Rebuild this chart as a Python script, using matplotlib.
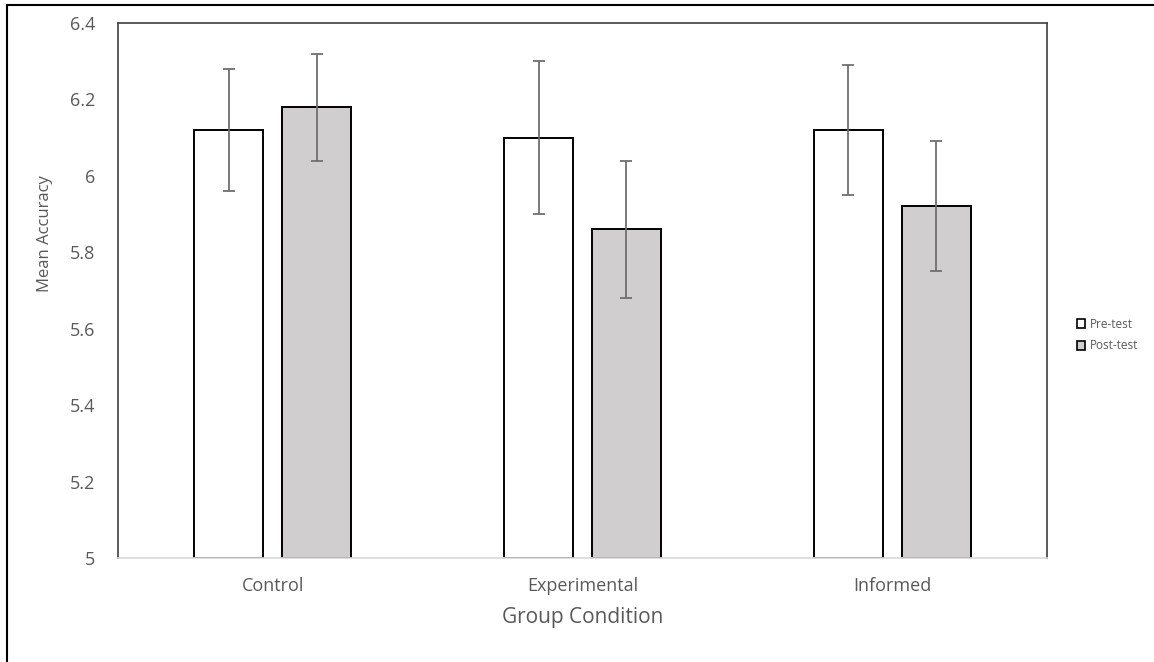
import numpy as np
import matplotlib.pyplot as plt
from matplotlib.lines import Line2D
from matplotlib.patches import Rectangle

groups = ['Control', 'Experimental', 'Informed']
pre_mean = [6.12, 6.10, 6.12]
post_mean = [6.18, 5.86, 5.92]
pre_err = [0.16, 0.20, 0.17]
post_err = [0.14, 0.18, 0.17]

W, H = 1154, 662
fig = plt.figure(figsize=(W / 100, H / 100), dpi=100)
ax = fig.add_axes([118 / W, 1 - 558 / H, (1047 - 118) / W, (558 - 23) / H])

x = np.arange(len(groups))
bw = 0.223
off = 0.142
ekw = dict(ecolor='#6f6f6f', elinewidth=1.3, capsize=4, capthick=1.3)
ax.bar(x - off, np.array(pre_mean) - 5, bw, bottom=5, color='white',
       edgecolor='black', linewidth=1.4, yerr=pre_err, error_kw=ekw, label='Pre-test', zorder=2)
ax.bar(x + off, np.array(post_mean) - 5, bw, bottom=5, color='#d0cece',
       edgecolor='black', linewidth=1.4, yerr=post_err, error_kw=ekw, label='Post-test', zorder=2)

ax.set_xlim(-0.5, 2.5)
ax.set_ylim(5, 6.4)
ax.set_yticks(np.arange(5, 6.41, 0.2))
ax.set_yticklabels(['5', '5.2', '5.4', '5.6', '5.8', '6', '6.2', '6.4'])
ax.set_xticks(x)
ax.set_xticklabels(groups)
ax.tick_params(length=0, colors='#595959')
ax.tick_params(axis='y', pad=16.5, labelsize=13)
ax.tick_params(axis='x', pad=14, labelsize=13)
for lab in ax.get_xticklabels() + ax.get_yticklabels():
    lab.set_fontfamily('Open Sans')

for s in ['left', 'top', 'right']:
    ax.spines[s].set_color('#404040')
    ax.spines[s].set_linewidth(1.2)
ax.spines['bottom'].set_color('#d9d9d9')
ax.spines['bottom'].set_linewidth(1.2)

ax.set_xlabel('Group Condition', fontsize=15, color='#595959', family='Open Sans', labelpad=8)
ax.set_ylabel('Mean Accuracy', fontsize=12, color='#595959', family='Open Sans')
ax.yaxis.set_label_coords(-0.07, 0.607)

handles = [Rectangle((0, 0), 1, 1, facecolor='white', edgecolor='black', linewidth=1.2),
           Rectangle((0, 0), 1, 1, facecolor='#d0cece', edgecolor='black', linewidth=1.2)]
leg = fig.legend(handles, ['Pre-test', 'Post-test'], loc='center left',
                 bbox_to_anchor=(1066 / W, 1 - 335 / H), frameon=False,
                 prop={'family': 'Open Sans', 'size': 8.5}, handlelength=0.75,
                 handleheight=0.75, handletextpad=0.4, labelspacing=0.75, labelcolor='#595959')

fig.add_artist(Line2D([7 / W, 1], [1 - 5 / H, 1 - 5 / H], color='black', linewidth=1.5))
fig.add_artist(Line2D([7 / W, 7 / W], [0, 1 - 5 / H], color='black', linewidth=1.5))

fig.savefig('out.png', dpi=100)
